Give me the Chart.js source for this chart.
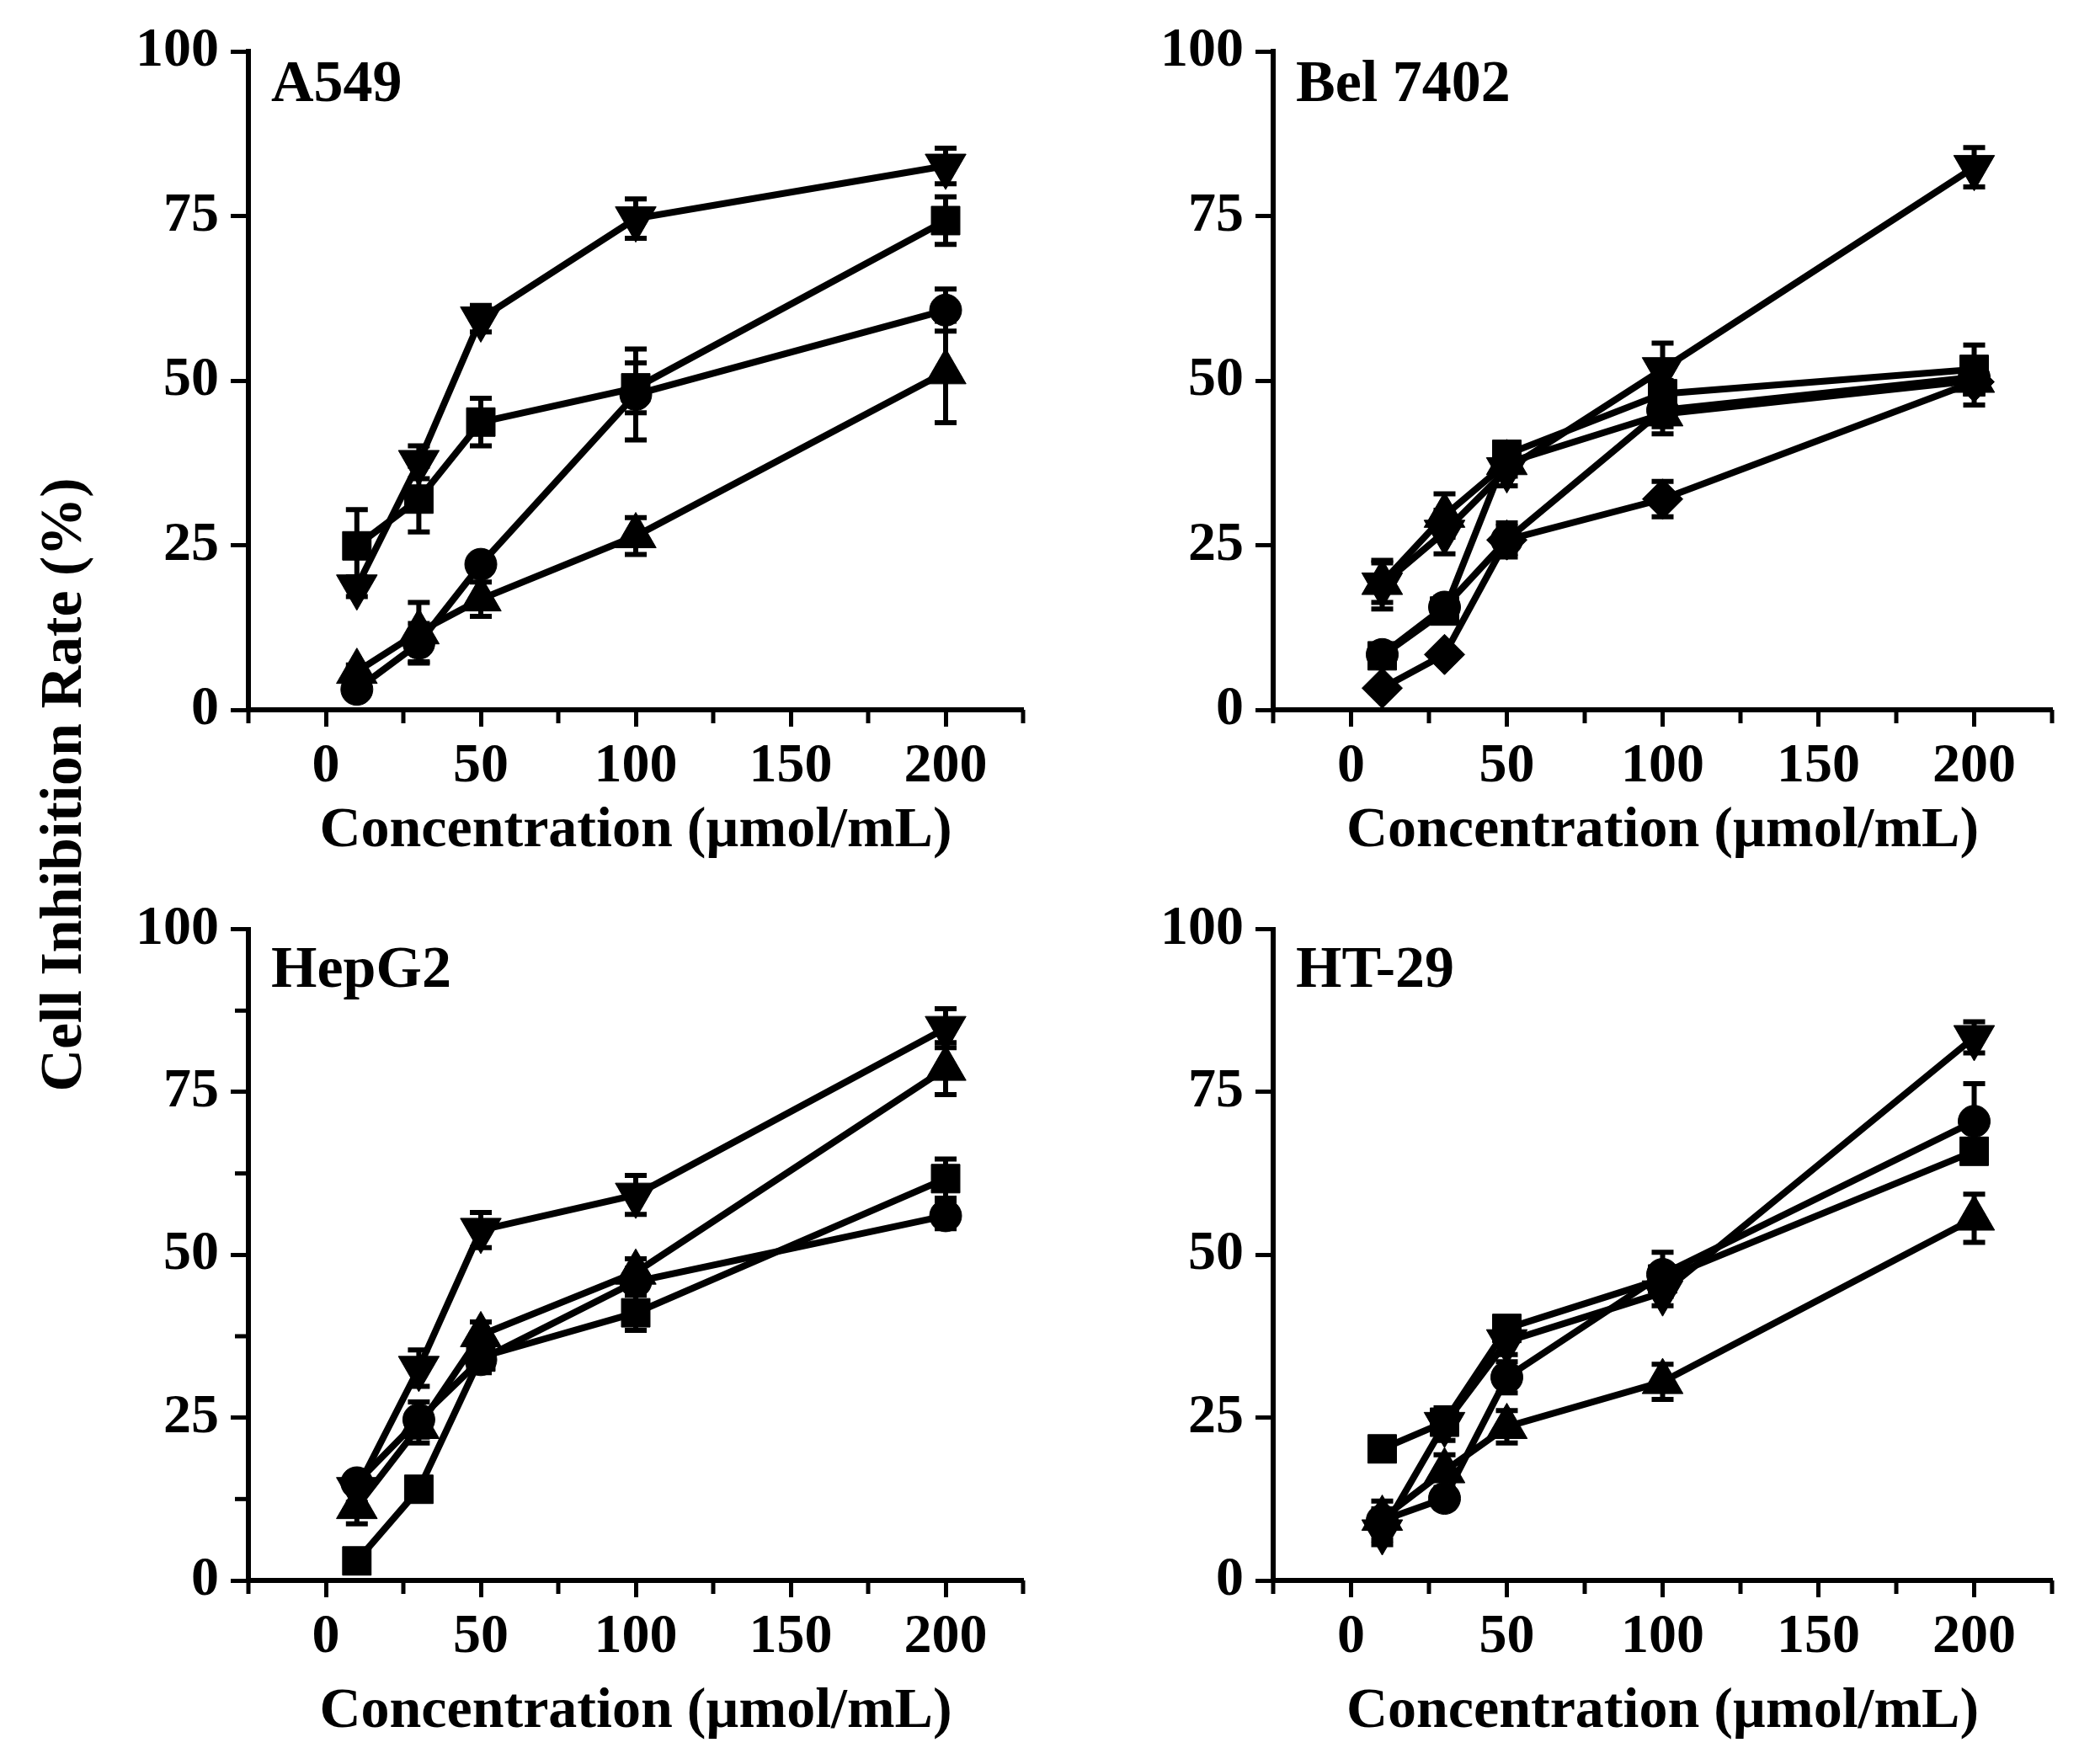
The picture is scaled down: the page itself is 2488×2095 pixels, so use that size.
<!DOCTYPE html>
<html lang="en">
<head>
<meta charset="UTF-8">
<title>Cell Inhibition Rate</title>
<script src="https://cdn.jsdelivr.net/npm/chart.js@4.4.1/dist/chart.umd.min.js"></script>
<style>
  body { margin: 0; background: #fff; }
  #page { position: relative; width: 2488px; height: 2095px; background: #fff; }
  canvas { position: absolute; }
  #ytitle {
    position: absolute; left: 73px; top: 932px;
    transform: translate(-50%, -50%) rotate(-90deg);
    font: bold 70px 'Liberation Serif', 'Times New Roman', serif;
    line-height: 1; white-space: nowrap; color: #000;
  }
</style>
</head>
<body>
<div id="page">
  <canvas id="cA549" width="1094" height="1045" style="left:150px; top:0px;"></canvas>
  <canvas id="cBel" width="1121" height="1045" style="left:1367px; top:0px;"></canvas>
  <canvas id="cHepG2" width="1094" height="1045" style="left:150px; top:1050px;"></canvas>
  <canvas id="cHT29" width="1121" height="1045" style="left:1367px; top:1050px;"></canvas>
  <div id="ytitle">Cell Inhibition Rate (%)</div>
</div>
<script>
// concentrations tested (µmol/mL)
var concentrations = [10, 30, 50, 100, 200];
var xMajorTicks = [0, 50, 100, 150, 200];
var xMinorTicks = [-25, 25, 75, 125, 175, 225];
var yMajorTicks = [0, 25, 50, 75, 100];
var yMinorTicks = [12.5, 37.5, 62.5, 87.5];

// A549
var a549Down = [18.7, 37.6, 59.4, 74.6, 82.6];
var a549DownErr = [1.5, 2.5, 2.0, 3.0, 2.7];
var a549Square = [24.9, 32.0, 43.7, 48.9, 74.3];
var a549SquareErr = [5.5, 5.0, 3.6, 3.8, 3.6];
var a549Circle = [3.1, 10.1, 22.1, 47.9, 60.7];
var a549CircleErr = [1.0, 3.0, 1.0, 6.9, 3.2];
var a549Up = [5.8, 11.8, 16.8, 26.4, 51.3];
var a549UpErr = [1.0, 4.5, 2.6, 2.8, 7.7];

// Bel 7402
var belDown = [19.0, 27.0, 36.5, 51.7, 82.4];
var belDownErr = [3.7, 3.3, 2.5, 4.0, 3.0];
var belUp = [19.3, 29.5, 37.5, 44.9, 50.0];
var belUpErr = [3.0, 3.3, 2.0, 3.0, 2.0];
var belSquare = [8.2, 15.0, 38.8, 48.0, 51.7];
var belSquareErr = [1.5, 1.5, 1.5, 2.0, 3.7];
var belCircle = [8.4, 15.6, 25.8, 45.5, 50.5];
var belCircleErr = [1.5, 1.5, 2.6, 2.5, 2.5];
var belDiamond = [3.3, 8.4, 25.8, 32.0, 49.8];
var belDiamondErr = [1.0, 1.0, 2.0, 2.7, 3.5];

// HepG2
var hepDown = [14.0, 32.6, 53.8, 59.2, 84.8];
var hepDownErr = [2.0, 2.8, 2.7, 3.0, 3.0];
var hepUp = [11.3, 23.6, 37.7, 47.3, 78.6];
var hepUpErr = [2.6, 2.5, 2.0, 2.1, 4.0];
var hepCircle = [15.0, 24.7, 33.9, 45.9, 56.0];
var hepCircleErr = [1.5, 2.7, 2.0, 2.0, 2.0];
var hepSquare = [3.0, 14.0, 34.3, 41.1, 61.7];
var hepSquareErr = [1.0, 1.0, 2.0, 2.7, 3.0];

// HT-29
var htDown = [7.5, 24.0, 36.7, 44.2, 83.4];
var htDownErr = [2.0, 2.5, 2.0, 2.0, 2.4];
var htCircle = [9.2, 12.6, 31.2, 47.0, 70.5];
var htCircleErr = [3.0, 1.5, 2.4, 3.4, 5.8];
var htSquare = [20.2, 24.3, 38.7, 46.3, 65.9];
var htSquareErr = [1.5, 1.5, 1.5, 2.0, 1.5];
var htUp = [9.5, 16.8, 23.6, 30.5, 55.6];
var htUpErr = [1.5, 2.5, 2.5, 2.7, 3.7];

var fontFamily = "'Liberation Serif', 'Times New Roman', serif";

// marker look for each symbol
var markers = {
    down: { pointStyle: 'triangle', pointRotation: 180, pointRadius: 28 },
    up: { pointStyle: 'triangle', pointRotation: 0, pointRadius: 28 },
    square: { pointStyle: 'rect', pointRotation: 0, pointRadius: 24 },
    circle: { pointStyle: 'circle', pointRotation: 0, pointRadius: 19 },
    diamond: { pointStyle: 'rectRot', pointRotation: 0, pointRadius: 24 }
};

// error bars drawn from the dataset "errors" field
var errorBars = {
    id: 'errorBars',
    beforeDatasetsDraw: function (chart) {
        var ctx = chart.ctx;
        var y = chart.scales.y;
        ctx.save();
        ctx.strokeStyle = '#000';
        ctx.lineWidth = 6;
        chart.data.datasets.forEach(function (ds, i) {
            var meta = chart.getDatasetMeta(i);
            meta.data.forEach(function (pt, j) {
                var v = ds.data[j].y;
                var e = ds.errors[j];
                var top = y.getPixelForValue(v + e);
                var bot = y.getPixelForValue(v - e);
                ctx.beginPath();
                ctx.moveTo(pt.x, top);
                ctx.lineTo(pt.x, bot);
                ctx.moveTo(pt.x - 13, top);
                ctx.lineTo(pt.x + 13, top);
                ctx.moveTo(pt.x - 13, bot);
                ctx.lineTo(pt.x + 13, bot);
                ctx.stroke();
            });
        });
        ctx.restore();
    }
};

// short minor ticks
var minorTicks = {
    id: 'minorTicks',
    afterDraw: function (chart, args, opts) {
        var ctx = chart.ctx;
        var area = chart.chartArea;
        ctx.save();
        ctx.strokeStyle = '#000';
        ctx.lineWidth = 5;
        xMinorTicks.forEach(function (v) {
            var px = chart.scales.x.getPixelForValue(v);
            ctx.beginPath();
            ctx.moveTo(px, area.bottom);
            ctx.lineTo(px, area.bottom + 16);
            ctx.stroke();
        });
        if (opts.yMinor) {
            yMinorTicks.forEach(function (v) {
                var py = chart.scales.y.getPixelForValue(v);
                ctx.beginPath();
                ctx.moveTo(area.left, py);
                ctx.lineTo(area.left - 16, py);
                ctx.stroke();
            });
        }
        ctx.restore();
    }
};

// cell line name inside the plot
var panelLabel = {
    id: 'panelLabel',
    afterDraw: function (chart, args, opts) {
        var ctx = chart.ctx;
        ctx.save();
        ctx.font = 'bold 70px ' + fontFamily;
        ctx.fillStyle = '#000';
        ctx.textBaseline = 'alphabetic';
        ctx.fillText(opts.text, chart.chartArea.left + 27, chart.chartArea.top + opts.dy);
        ctx.restore();
    }
};

function makeDataset(kind, values, errors) {
    var m = markers[kind];
    return {
        data: concentrations.map(function (c, i) { return { x: c, y: values[i] }; }),
        errors: errors,
        borderColor: '#000',
        borderWidth: 8,
        backgroundColor: '#000',
        pointBackgroundColor: '#000',
        pointBorderColor: '#000',
        pointBorderWidth: 1,
        pointStyle: m.pointStyle,
        pointRotation: m.pointRotation,
        pointRadius: m.pointRadius,
        tension: 0,
        fill: false,
        clip: false
    };
}

function drawPanel(id, name, datasets, layout) {
    new Chart(document.getElementById(id), {
        type: 'line',
        data: { datasets: datasets },
        options: {
            responsive: false,
            animation: false,
            devicePixelRatio: 1,
            layout: { padding: { top: layout.padTop, right: layout.padRight, left: 0, bottom: 0 } },
            plugins: {
                legend: { display: false },
                tooltip: { enabled: false },
                panelLabel: { text: name, dy: layout.labelDy },
                minorTicks: { yMinor: layout.yMinor }
            },
            scales: {
                x: {
                    type: 'linear',
                    min: -25,
                    max: 225,
                    afterBuildTicks: function (s) { s.ticks = xMajorTicks.map(function (v) { return { value: v }; }); },
                    afterFit: function (s) { s.height = layout.xHeight; },
                    grid: { drawOnChartArea: false, drawTicks: true, tickLength: 20, tickWidth: 5, tickColor: '#000' },
                    border: { display: true, color: '#000', width: 6 },
                    ticks: { color: '#000', font: { family: fontFamily, size: 66, weight: 'bold' }, padding: 8, maxRotation: 0, autoSkip: false },
                    title: {
                        display: true,
                        text: 'Concentration (µmol/mL)',
                        color: '#000',
                        font: { family: fontFamily, size: 68, weight: 'bold', lineHeight: 1 },
                        padding: { top: 0, bottom: layout.titlePad }
                    }
                },
                y: {
                    min: 0,
                    max: 100,
                    afterBuildTicks: function (s) { s.ticks = yMajorTicks.map(function (v) { return { value: v }; }); },
                    afterFit: function (s) { s.width = 145; },
                    grid: { drawOnChartArea: false, drawTicks: true, tickLength: 21, tickWidth: 5, tickColor: '#000' },
                    border: { display: true, color: '#000', width: 6 },
                    ticks: { color: '#000', font: { family: fontFamily, size: 66, weight: 'bold' }, padding: 14 }
                }
            }
        },
        plugins: [errorBars, minorTicks, panelLabel]
    });
}

var topLeft = { padTop: 61, padRight: 20, xHeight: 202, titlePad: 24, labelDy: 59, yMinor: false };
var topRight = { padTop: 61, padRight: 51, xHeight: 202, titlePad: 24, labelDy: 59, yMinor: false };
var bottomLeft = { padTop: 45, padRight: 20, xHeight: 218, titlePad: 28, labelDy: 68, yMinor: true };
var bottomRight = { padTop: 45, padRight: 51, xHeight: 218, titlePad: 28, labelDy: 68, yMinor: false };

drawPanel('cA549', 'A549', [
    makeDataset('down', a549Down, a549DownErr),
    makeDataset('square', a549Square, a549SquareErr),
    makeDataset('circle', a549Circle, a549CircleErr),
    makeDataset('up', a549Up, a549UpErr)
], topLeft);

drawPanel('cBel', 'Bel 7402', [
    makeDataset('down', belDown, belDownErr),
    makeDataset('up', belUp, belUpErr),
    makeDataset('square', belSquare, belSquareErr),
    makeDataset('circle', belCircle, belCircleErr),
    makeDataset('diamond', belDiamond, belDiamondErr)
], topRight);

drawPanel('cHepG2', 'HepG2', [
    makeDataset('down', hepDown, hepDownErr),
    makeDataset('up', hepUp, hepUpErr),
    makeDataset('circle', hepCircle, hepCircleErr),
    makeDataset('square', hepSquare, hepSquareErr)
], bottomLeft);

drawPanel('cHT29', 'HT-29', [
    makeDataset('down', htDown, htDownErr),
    makeDataset('circle', htCircle, htCircleErr),
    makeDataset('square', htSquare, htSquareErr),
    makeDataset('up', htUp, htUpErr)
], bottomRight);
</script>
</body>
</html>
